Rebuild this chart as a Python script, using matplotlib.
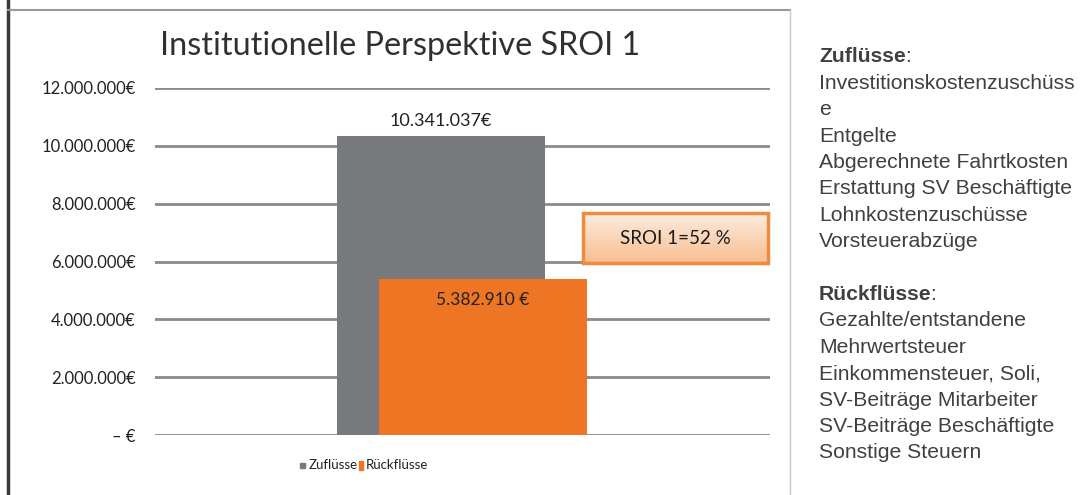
import numpy as np
import matplotlib.pyplot as plt
from matplotlib.patches import Rectangle
from matplotlib.lines import Line2D
from matplotlib.ticker import FuncFormatter

# data
series = ['Zuflüsse', 'Rückflüsse']
values = [10341037, 5382910]
value_labels = ['10.341.037€', '5.382.910 €']
colors = ['#77797c', '#ee7523']
sroi_text = 'SROI 1=52 %'
title = 'Institutionelle Perspektive SROI 1'
yticks = [0, 2000000, 4000000, 6000000, 8000000, 10000000, 12000000]

zu_items = ['Investitionskostenzuschüss', 'e', 'Entgelte', 'Abgerechnete Fahrtkosten',
            'Erstattung SV Beschäftigte', 'Lohnkostenzuschüsse', 'Vorsteuerabzüge']
rueck_items = ['Gezahlte/entstandene', 'Mehrwertsteuer', 'Einkommensteuer, Soli,',
               'SV-Beiträge Mitarbeiter', 'SV-Beiträge Beschäftigte', 'Sonstige Steuern']

W, H = 1081, 495
fig = plt.figure(figsize=(W / 100, H / 100), dpi=100)

def fx(px):
    return px / W

def fy(py):
    return 1 - py / H

# frame lines of the chart area
fig.add_artist(Line2D([fx(8), fx(8)], [fy(0), fy(495)], color='#3a3a3a', lw=2.5))
fig.add_artist(Line2D([fx(8), fx(790)], [fy(10), fy(10)], color='#9a9a9a', lw=1.5))
fig.add_artist(Line2D([fx(790), fx(790)], [fy(10), fy(495)], color='#c8c8c8', lw=1))

ax = fig.add_axes([fx(155), fy(435), fx(770 - 155), (435 - 88) / H])
ax.set_xlim(0, 1)
ax.set_ylim(0, 12000000)

for y in yticks:
    ax.axhline(y, color='#8a8a8a', lw=2, zorder=1)

xpos = [0.465, 0.533]
width = 0.338
for i in range(len(values)):
    ax.bar(xpos[i], values[i], width=width, color=colors[i], zorder=2 + i)

ax.text(xpos[0], values[0] + 250000, value_labels[0], ha='center', va='bottom',
        fontsize=13, family='Lato', color='#222222', zorder=5)
ax.text(xpos[1], values[1] - 450000, value_labels[1], ha='center', va='top',
        fontsize=12.5, family='Lato', color='#222222', zorder=5)

ax.set_yticks(yticks)
ax.yaxis.set_major_formatter(FuncFormatter(
    lambda v, p: '– €' if v == 0 else f'{int(v):,}€'.replace(',', '.')))
ax.tick_params(axis='y', length=0, pad=14, labelsize=12, labelcolor='#222222')
for lab in ax.get_yticklabels():
    lab.set_family('Lato')
ax.set_xticks([])
for s in ax.spines.values():
    s.set_visible(False)

# title
fig.text(fx(400), fy(46), title, ha='center', va='center', fontsize=23.3,
         family='Lato', color='#303030')

# SROI box with gradient
bx0, bx1, by0, by1 = 583, 768, 213, 263
bax = fig.add_axes([fx(bx0), fy(by1), fx(bx1 - bx0), (by1 - by0) / H])
grad = np.linspace(0, 1, 64).reshape(-1, 1)
top = np.array([253, 236, 222]) / 255
bot = np.array([249, 190, 145]) / 255
img = top + (bot - top) * grad[:, :, None]
bax.imshow(img, aspect='auto', extent=[0, 1, 0, 1], origin='upper')
bax.add_patch(Rectangle((0, 0), 1, 1, fill=False, edgecolor='#f08a3c', lw=2.5,
                        transform=bax.transAxes, clip_on=False))
bax.text(0.5, 0.5, sroi_text, ha='center', va='center', fontsize=13.5,
         family='Lato', color='#1a1a1a')
bax.set_axis_off()

# legend
fig.add_artist(Rectangle((fx(300), fy(468)), fx(5), 5 / H, color=colors[0]))
fig.text(fx(309), fy(465), series[0], ha='left', va='center', fontsize=9.5,
         family='Lato', color='#222222')
fig.add_artist(Rectangle((fx(359), fy(470)), fx(4), 9 / H, color=colors[1]))
fig.text(fx(366), fy(465), series[1], ha='left', va='center', fontsize=9.5,
         family='Lato', color='#222222')

# side text
renderer = fig.canvas.get_renderer()
tx = fx(819)
step = 26.4
fs = 15.2

def header(y, word):
    t = fig.text(tx, fy(y), word, ha='left', va='center', fontsize=fs,
                 family='Liberation Sans', weight='bold', color='#404040')
    bb = t.get_window_extent(renderer)
    fig.text((bb.x1 - 1) / W, fy(y), ':', ha='left', va='center', fontsize=fs,
             family='Liberation Sans', color='#404040')

ly = 57
header(ly, 'Zuflüsse')
for item in zu_items:
    ly += step
    fig.text(tx, fy(ly), item, ha='left', va='center', fontsize=fs,
             family='Liberation Sans', color='#404040')
ly += 2 * step
header(ly, 'Rückflüsse')
for item in rueck_items:
    ly += step
    fig.text(tx, fy(ly), item, ha='left', va='center', fontsize=fs,
             family='Liberation Sans', color='#404040')

fig.savefig('out.png', dpi=100)
